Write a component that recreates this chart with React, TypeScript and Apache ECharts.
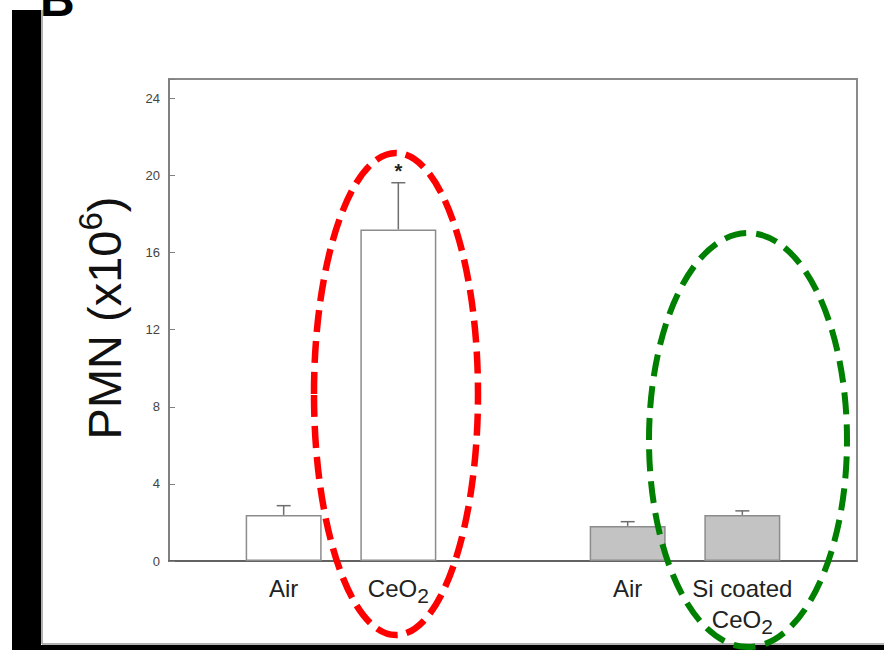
import React, { useEffect, useRef } from "react";
import * as echarts from "echarts";

// Category slots along the x axis (blank slots keep the group spacing)
const categories = ["", "Air", "CeO2", "", "Air", "Si coated\nCeO2", ""];
// Bar means (PMN x10^6); null for blank slots
const means = [null, 2.39, 17.2, null, 1.82, 2.39, null];
// Upper error (SEM)
const errors = [null, 0.48, 2.42, null, 0.22, 0.21, null];
// Group of each slot: 0 = uncoated, 1 = Si coated
const groups = [0, 0, 0, 0, 1, 1, 1];
// Significance marks
const marks = ["", "", "*", "", "", "", ""];
// Y ticks
const yMin = 0;
const yMax = 25;
const yInterval = 4;

const FONT = "Liberation Sans, Arial, Helvetica, sans-serif";

function fmtCategory(s: string): string {
  return s
    .split("\n")
    .map((line) => line.replace("CeO2", "{n|CeO}{sub|2}"))
    .map((line) => (line.indexOf("{") === 0 ? line : "{n|" + line + "}"))
    .join("\n");
}

export default function App() {
  const ref = useRef<HTMLDivElement>(null);
  useEffect(() => {
    if (!ref.current) return;
    const chart = echarts.init(ref.current, null, { renderer: "svg" });
    const barData = means.map((v, i) =>
      v == null
        ? "-"
        : {
            value: v,
            itemStyle: {
              color: groups[i] === 0 ? "#ffffff" : "#c3c3c3",
              borderColor: "#8c8c8c",
              borderWidth: 1.5,
            },
          }
    );
    const errData: any[] = [];
    means.forEach((v, i) => {
      if (v != null) errData.push([i, v, errors[i], marks[i]]);
    });
    const option: any = {
      animation: false,
      backgroundColor: "#ffffff",
      grid: {
        left: 169,
        top: 79,
        right: 27,
        bottom: 89,
        show: true,
        borderColor: "#8a8a8a",
        borderWidth: 2,
        containLabel: false,
      },
      xAxis: {
        type: "category",
        data: categories,
        boundaryGap: false,
        axisLine: { show: true, lineStyle: { color: "#555", width: 1.5 } },
        axisTick: { show: false },
        splitLine: { show: false },
        axisLabel: {
          interval: 0,
          margin: 12,
          formatter: (v: string) => (v ? fmtCategory(v) : ""),
          rich: {
            n: { fontSize: 24, color: "#222", fontFamily: FONT, lineHeight: 31 },
            sub: {
              fontSize: 21,
              color: "#222",
              fontFamily: FONT,
              padding: [14, 0, 0, 0],
              lineHeight: 31,
            },
          },
        },
      },
      yAxis: {
        type: "value",
        min: yMin,
        max: yMax,
        interval: yInterval,
        axisLine: { show: true, lineStyle: { color: "#808080", width: 2 } },
        axisTick: { show: true, inside: true, length: 6, lineStyle: { color: "#808080", width: 1 } },
        splitLine: { show: false },
        axisLabel: {
          margin: 9,
          fontSize: 13,
          color: "#444",
          fontFamily: FONT,
          formatter: (v: number) => (v === yMax ? "" : String(v)),
        },
      },
      series: [
        {
          type: "bar",
          data: barData,
          barWidth: 76,
          z: 2,
        },
        {
          type: "custom",
          z: 3,
          data: errData,
          renderItem: (params: any, api: any) => {
            const x = api.value(0);
            const m = api.value(1);
            const e = api.value(2);
            const mk = errData[params.dataIndex][3];
            const base = api.coord([x, m]);
            const top = api.coord([x, m + e]);
            const cap = 7;
            const children: any[] = [
              {
                type: "line",
                shape: { x1: base[0], y1: base[1], x2: top[0], y2: top[1] },
                style: { stroke: "#6e6e6e", lineWidth: 1.5 },
              },
              {
                type: "line",
                shape: { x1: top[0] - cap, y1: top[1], x2: top[0] + cap, y2: top[1] },
                style: { stroke: "#6e6e6e", lineWidth: 1.5 },
              },
            ];
            if (mk) {
              children.push({
                type: "text",
                x: top[0],
                y: top[1] - 12,
                style: {
                  text: mk,
                  fontSize: 20,
                  fontWeight: "bold",
                  fontFamily: FONT,
                  fill: "#222",
                  align: "center",
                  verticalAlign: "middle",
                },
              });
            }
            return { type: "group", children };
          },
        },
      ],
      graphic: [
        // page frame pieces
        { type: "rect", shape: { x: 12, y: 10, width: 29, height: 640 }, style: { fill: "#000" }, z: 10 },
        { type: "rect", shape: { x: 12, y: 645, width: 872, height: 5 }, style: { fill: "#000" }, z: 10 },
        { type: "line", shape: { x1: 42, y1: 10, x2: 42, y2: 644 }, style: { stroke: "#999", lineWidth: 1.5 }, z: 10 },
        { type: "line", shape: { x1: 42, y1: 644, x2: 884, y2: 644 }, style: { stroke: "#999", lineWidth: 1.5 }, z: 10 },
        {
          type: "text",
          x: 40,
          y: -1,
          z: 10,
          style: {
            text: "B",
            fontSize: 48,
            fontWeight: "bold",
            fontFamily: FONT,
            fill: "#000",
            align: "left",
            verticalAlign: "middle",
          },
        },
        // y axis title
        {
          type: "text",
          x: 104,
          y: 318,
          rotation: Math.PI / 2,
          z: 10,
          style: {
            text: "{t|PMN (x10}{s|6}{t|)}",
            align: "center",
            verticalAlign: "middle",
            rich: {
              t: { fontSize: 47, fontFamily: FONT, fill: "#111", color: "#111" },
              s: { fontSize: 33, fontFamily: FONT, fill: "#111", color: "#111", padding: [0, 0, 27, 0] },
            },
          },
        },
        // highlight ellipses
        {
          type: "ellipse",
          shape: { cx: 396, cy: 394, rx: 82, ry: 241 },
          style: { fill: "none", stroke: "#ff0000", lineWidth: 6.5, lineDash: [22, 9] },
          z: 20,
        },
        {
          type: "ellipse",
          shape: { cx: 748, cy: 440, rx: 99, ry: 207 },
          style: { fill: "none", stroke: "#008000", lineWidth: 6, lineDash: [22, 10] },
          z: 20,
        },
      ],
    };
    chart.setOption(option);
    return () => chart.dispose();
  }, []);
  return (
    <div
      ref={ref}
      style={{ position: "absolute", left: 0, top: 0, width: 884, height: 650, background: "#fff" }}
    />
  );
}
